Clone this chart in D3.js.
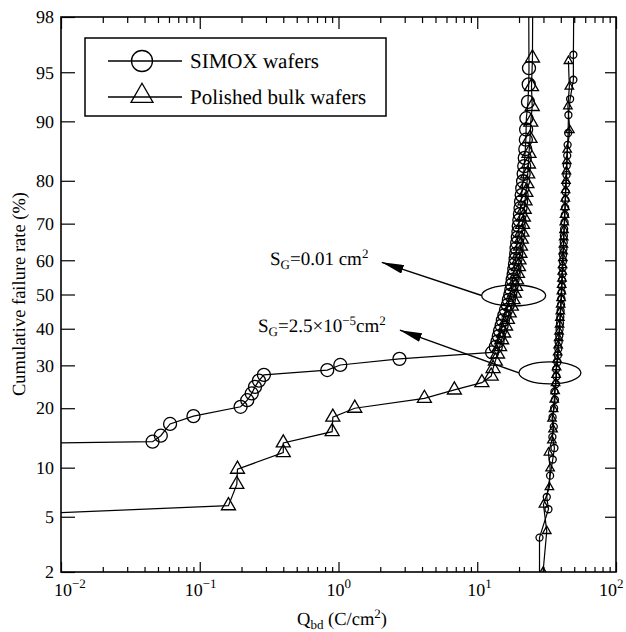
<!DOCTYPE html>
<html><head><meta charset="utf-8">
<script src="https://cdn.jsdelivr.net/npm/d3@7"></script>
<style>
body{margin:0;background:#fff}
svg{display:block}
text{text-rendering:geometricPrecision}
</style>
</head><body>
<svg id="c" width="626" height="632"></svg>
<script>
// ---------- data ----------
const yTickValues = [2,5,10,20,30,40,50,60,70,80,90,95,98];
const xTickExps = [-2,-1,0,1,2];
const seriesNames = ["SIMOX wafers","Polished bulk wafers"];

// S_G = 0.01 cm2, SIMOX (large circles); first / last values lie outside the axes
const simoxLargeQ = [2e-7,0.0457,0.0524,0.0611,0.0901,0.197,0.220,0.237,0.250,0.267,0.290,0.830,1.03,2.75,12.8,
  13.6,14.0,14.3,14.6,15.0,15.3,15.7,16.1,16.6,16.9,17.3,17.6,17.8,18.0,18.3,18.5,18.7,18.9,19.1,19.2,
  19.4,19.6,19.8,19.9,20.1,20.3,20.5,20.7,20.9,21.1,21.4,21.6,21.8,22.0,22.2,22.4,22.5,22.6,23.2,23.5,23.6,23.4];
const simoxLargeF = [12.3,13.8,14.8,16.9,18.4,20.3,21.7,23.2,24.7,26.2,27.6,28.8,30.1,31.7,33.4,
  34.9,36.4,37.9,39.4,40.9,42.4,43.9,45.4,46.9,48.4,49.9,51.4,52.9,54.4,55.9,57.4,58.9,60.4,61.9,63.4,
  64.9,66.4,67.9,69.4,70.9,72.4,73.9,75.4,76.9,78.4,79.9,81.4,82.9,84.4,85.9,87.4,88.9,90.4,92.3,94.0,95.3,99.5];

// S_G = 0.01 cm2, polished bulk (large triangles)
const bulkLargeQ = [3e-6,0.161,0.185,0.187,0.400,0.400,0.90,0.91,1.31,4.16,6.84,10.8,12.6,
  13.0,13.5,14.0,14.5,15.0,15.5,16.0,16.5,17.0,17.6,18.1,18.5,18.9,19.2,19.5,19.8,20.0,20.3,20.5,20.8,
  21.0,21.2,21.5,21.8,22.1,22.4,22.8,23.1,23.4,23.6,24.0,24.3,24.9,24.6,25.0,25.2];
const bulkLargeF = [3.9,5.9,8.0,9.8,12.1,13.6,15.5,18.2,20.0,22.1,24.0,25.7,27.3,
  29.2,31.1,33.0,35.0,36.9,38.8,40.8,42.7,44.6,46.6,48.5,50.4,52.4,54.3,56.2,58.2,60.1,62.0,64.0,65.9,
  67.8,69.8,71.7,73.6,75.6,77.5,79.4,81.4,83.3,85.2,87.6,89.9,91.8,93.8,96.0,99.5];

// S_G = 2.5e-5 cm2, SIMOX (small circles)
const simoxSmallQ = [28.1,28.1,32.6,31.7,33.5,35.0,36.0,34.8,35.6,34.9,35.8,36.3,36.0,36.9,37.2,37.0,37.8,
  38.1,38.4,38.6,39.0,39.2,39.5,39.7,39.9,40.2,40.4,40.6,40.7,40.9,41.1,41.2,41.4,41.5,41.8,42.0,42.1,
  42.3,42.6,42.8,43.0,43.2,43.4,43.7,44.0,44.2,44.5,44.8,45.2,45.4,46.7,49.3,49.3,50.0];
const simoxSmallF = [0.5,3.6,5.6,6.7,9.0,11.1,12.8,14.6,16.4,18.2,20.0,21.8,23.6,25.4,27.2,29.0,30.8,
  32.6,34.4,36.2,38.0,39.8,41.6,43.4,45.2,47.0,48.8,50.6,52.4,54.2,56.0,57.8,59.6,61.4,63.2,65.0,66.8,
  68.6,70.4,72.2,74.0,75.8,77.6,79.4,81.2,83.0,84.8,86.6,88.4,90.8,92.6,94.4,96.2,99.5];

// S_G = 2.5e-5 cm2, polished bulk (small triangles)
const bulkSmallQ = [31.3,29.8,31.7,30.0,33.1,33.5,32.6,34.5,35.2,34.6,35.5,35.9,36.4,36.7,37.0,37.3,37.6,
  38.0,38.3,38.6,38.9,39.2,39.4,39.7,39.9,40.2,40.4,40.6,40.8,41.0,41.2,41.4,41.6,41.8,42.0,42.2,42.4,
  42.6,42.9,43.1,43.3,43.6,43.9,44.2,44.5,46.5,45.0,46.1,45.4];
const bulkSmallF = [0.5,2.0,4.0,6.0,7.7,9.9,12.1,14.0,15.9,17.9,19.8,21.8,23.7,25.6,27.6,29.5,31.5,
  33.4,35.3,37.3,39.2,41.2,43.1,45.0,47.0,48.9,50.9,52.8,54.7,56.7,58.6,60.6,62.5,64.4,66.4,68.3,70.3,
  72.2,74.1,76.1,78.0,80.0,81.9,83.8,85.8,88.8,91.8,93.8,95.8];

// annotations (data units): ellipse centres and arrow tips
const annotQ = [18.3, 33.4];
const annotF = [49.7, 28.1];
const arrowTipQ = [2.05, 2.77];
const arrowTipF = [59.4, 39.6];

// ---------- helpers ----------
const SERIF = "'Liberation Serif', Tinos, 'Times New Roman', 'DejaVu Serif', serif";
function probit(p){
  const a=[-3.969683028665376e+01,2.209460984245205e+02,-2.759285104469687e+02,1.383577518672690e+02,-3.066479806614716e+01,2.506628277459239e+00];
  const b=[-5.447609879822406e+01,1.615858368580409e+02,-1.556989798598866e+02,6.680131188771972e+01,-1.328068155288572e+01];
  const c=[-7.784894002430293e-03,-3.223964580411365e-01,-2.400758277161838e+00,-2.549732539343734e+00,4.374664141464968e+00,2.938163982698783e+00];
  const d=[7.784695709041462e-03,3.224671290700398e-01,2.445134137142996e+00,3.754408661907416e+00];
  const pl=0.02425, ph=1-pl; let q,r;
  if(p<pl){q=Math.sqrt(-2*Math.log(p));return (((((c[0]*q+c[1])*q+c[2])*q+c[3])*q+c[4])*q+c[5])/((((d[0]*q+d[1])*q+d[2])*q+d[3])*q+1);}
  if(p<=ph){q=p-0.5;r=q*q;return (((((a[0]*r+a[1])*r+a[2])*r+a[3])*r+a[4])*r+a[5])*q/(((((b[0]*r+b[1])*r+b[2])*r+b[3])*r+b[4])*r+1);}
  q=Math.sqrt(-2*Math.log(1-p));return -(((((c[0]*q+c[1])*q+c[2])*q+c[3])*q+c[4])*q+c[5])/((((d[0]*q+d[1])*q+d[2])*q+d[3])*q+1);
}

// ---------- layout ----------
const L=61, R=616, T=17, B=572;
const svg = d3.select("#c");
const x = d3.scaleLog().domain([0.01,100]).range([L,R]);
const z = d3.scaleLinear().domain([probit(0.02), probit(0.98)]).range([B,T]);
const y = f => z(probit(f/100));

svg.append("defs").append("clipPath").attr("id","clip")
  .append("rect").attr("x",L).attr("y",T).attr("width",R-L).attr("height",B-T);

// ---------- axes ----------
const minorVals = [];
for (let e=-2;e<2;e++) for (let m=2;m<=9;m++) minorVals.push(m*Math.pow(10,e));
const majorVals = xTickExps.map(e=>Math.pow(10,e));

function styleAxis(g){ g.select(".domain").remove(); g.selectAll("line").attr("stroke","#000").attr("stroke-width",1.2); }

svg.append("g").attr("transform",`translate(0,${B})`)
  .call(d3.axisBottom(x).tickValues(minorVals).tickSize(-5).tickFormat("")).call(styleAxis);
svg.append("g").attr("transform",`translate(0,${B})`)
  .call(d3.axisBottom(x).tickValues(majorVals).tickSize(-10).tickFormat("")).call(styleAxis);
svg.append("g").attr("transform",`translate(0,${T})`)
  .call(d3.axisTop(x).tickValues(minorVals).tickSize(-6).tickFormat("")).call(styleAxis);
svg.append("g").attr("transform",`translate(0,${T})`)
  .call(d3.axisTop(x).tickValues(majorVals).tickSize(-12).tickFormat("")).call(styleAxis);

const zTicks = yTickValues.map(v=>probit(v/100));
svg.append("g").attr("transform",`translate(${L},0)`)
  .call(d3.axisLeft(z).tickValues(zTicks).tickSize(-14).tickPadding(7)
        .tickFormat((d,i)=>yTickValues[i]))
  .call(styleAxis)
  .call(g=>g.selectAll("text").attr("font-size",18).attr("fill","#000"));
svg.append("g").attr("transform",`translate(${R},0)`)
  .call(d3.axisRight(z).tickValues(zTicks.slice(1,-1)).tickSize(-11).tickFormat("")).call(styleAxis);

// x tick labels with superscripts
const labelShift = [-7,-15,-12,-10,-17];
const xl = svg.append("g");
xTickExps.forEach((e,i)=>{
  const t = xl.append("text").attr("x",x(Math.pow(10,e)) + labelShift[i]).attr("y",596).attr("font-size",18);
  t.append("tspan").text("10");
  t.append("tspan").attr("dy",-8).attr("font-size",13).text(e<0 ? "\u2212"+(-e) : String(e));
});

// frame
svg.append("rect").attr("x",L).attr("y",T).attr("width",R-L).attr("height",B-T)
  .attr("fill","none").attr("stroke","#000").attr("stroke-width",1.6);

// axis titles
const xt = svg.append("text").attr("x",342).attr("y",625).attr("text-anchor","middle").attr("font-size",18.5);
xt.append("tspan").text("Q");
xt.append("tspan").attr("dy",4).attr("font-size",13).text("bd");
xt.append("tspan").attr("dy",-4).text(" (C/cm");
xt.append("tspan").attr("dy",-7).attr("font-size",13).text("2");
xt.append("tspan").attr("dy",7).text(")");

svg.append("text").attr("transform","translate(25,294) rotate(-90)").attr("text-anchor","middle")
  .attr("font-size",18.5).text("Cumulative failure rate (%)");

// ---------- data ----------
const plot = svg.append("g").attr("clip-path","url(#clip)");
const line = d3.line().x(d=>x(d[0])).y(d=>y(d[1]));
const zip = (a,b)=>a.map((v,i)=>[v,b[i]]);
const series = [
  {q:simoxLargeQ,f:simoxLargeF,shape:"circle",size:6.5},
  {q:bulkLargeQ,f:bulkLargeF,shape:"triangle",size:14},
  {q:simoxSmallQ,f:simoxSmallF,shape:"circle",size:3.5},
  {q:bulkSmallQ,f:bulkSmallF,shape:"triangle",size:8.5}
];
series.forEach(s=>{
  plot.append("path").attr("d",line(zip(s.q,s.f))).attr("fill","none").attr("stroke","#000").attr("stroke-width",1.2);
});
series.forEach(s=>{
  const pts = zip(s.q,s.f);
  if (s.shape==="circle"){
    plot.append("g").selectAll("circle").data(pts).join("circle")
      .attr("cx",d=>x(d[0])).attr("cy",d=>y(d[1])).attr("r",s.size)
      .attr("fill","none").attr("stroke","#000").attr("stroke-width",1.3);
  } else {
    const sym = d3.symbol().type(d3.symbolTriangle).size(Math.sqrt(3)/4*s.size*s.size);
    plot.append("g").selectAll("path").data(pts).join("path")
      .attr("transform",d=>`translate(${x(d[0])},${y(d[1])})`).attr("d",sym())
      .attr("fill","none").attr("stroke","#000").attr("stroke-width",1.3);
  }
});

// ---------- annotations ----------
svg.append("defs").append("marker").attr("id","ah").attr("viewBox","0 0 22 9")
  .attr("refX",22).attr("refY",4.5).attr("markerWidth",22).attr("markerHeight",9)
  .attr("markerUnits","userSpaceOnUse").attr("orient","auto")
  .append("path").attr("d","M0,0 L22,4.5 L0,9 Z").attr("fill","#000");
const rx=[32,31], ry=[10.5,11];
annotQ.forEach((q,i)=>{
  const cx=x(q), cy=y(annotF[i]);
  svg.append("ellipse").attr("cx",cx).attr("cy",cy).attr("rx",rx[i]).attr("ry",ry[i])
    .attr("fill","none").attr("stroke","#000").attr("stroke-width",1.3);
  svg.append("line").attr("x1",cx-rx[i]).attr("y1",cy).attr("x2",x(arrowTipQ[i])).attr("y2",y(arrowTipF[i]))
    .attr("stroke","#000").attr("stroke-width",1.4).attr("marker-end","url(#ah)");
});
const a1 = svg.append("text").attr("x",270).attr("y",265).attr("font-size",19);
a1.append("tspan").text("S");
a1.append("tspan").attr("dy",4).attr("font-size",13).text("G");
a1.append("tspan").attr("dy",-4).text("=0.01 cm");
a1.append("tspan").attr("dy",-7).attr("font-size",13).text("2");
const a2 = svg.append("text").attr("x",258).attr("y",332).attr("font-size",19);
a2.append("tspan").text("S");
a2.append("tspan").attr("dy",4).attr("font-size",13).text("G");
a2.append("tspan").attr("dy",-4).text("=2.5\u00d710");
a2.append("tspan").attr("dy",-7).attr("font-size",13).text("\u22125");
a2.append("tspan").attr("dy",7).text("cm");
a2.append("tspan").attr("dy",-7).attr("font-size",13).text("2");

// ---------- legend ----------
const lg = svg.append("g");
lg.append("rect").attr("x",85).attr("y",38).attr("width",301).attr("height",78)
  .attr("fill","#fff").attr("stroke","#000").attr("stroke-width",1.5);
seriesNames.forEach((name,i)=>{
  const yy = 61 + i*36;
  lg.append("line").attr("x1",108).attr("x2",182).attr("y1",yy).attr("y2",yy).attr("stroke","#000").attr("stroke-width",1.3);
  if (i===0) lg.append("circle").attr("cx",142).attr("cy",yy).attr("r",10.5).attr("fill","none").attr("stroke","#000").attr("stroke-width",1.3);
  else lg.append("path").attr("transform",`translate(142,${yy-1})`)
        .attr("d",d3.symbol().type(d3.symbolTriangle).size(Math.sqrt(3)/4*22*22)())
        .attr("fill","none").attr("stroke","#000").attr("stroke-width",1.3);
  lg.append("text").attr("x",190).attr("y",yy+7).attr("font-size",21).text(name);
});

// apply the serif face to every text
svg.selectAll("text").attr("font-family",SERIF).style("font-family",SERIF).attr("fill","#000");
svg.selectAll("g").attr("font-family",null);
</script>
</body></html>
